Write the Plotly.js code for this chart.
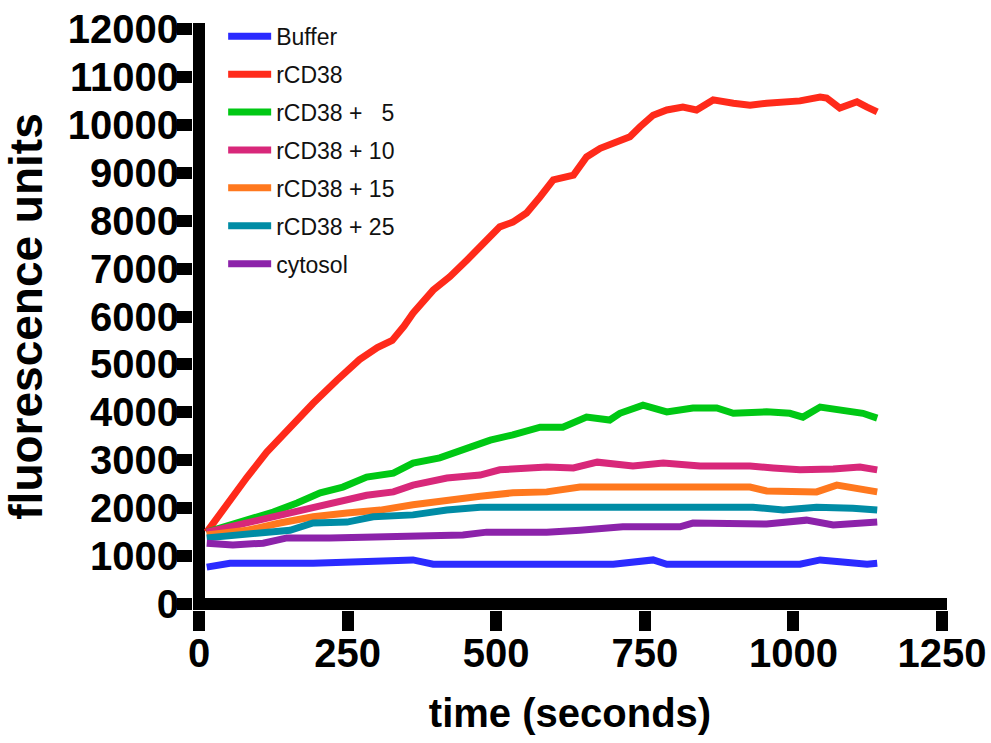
<!DOCTYPE html>
<html>
<head>
<meta charset="utf-8">
<script src="https://cdn.plot.ly/plotly-3.0.1.min.js"></script>
<style>html,body{margin:0;padding:0;background:#fff;}#chart{width:991px;height:743px;}</style>
</head>
<body>
<div id="chart"></div>
<script>
// Series names
const seriesNames = ["Buffer", "rCD38", "rCD38 +   5", "rCD38 + 10", "rCD38 + 15", "rCD38 + 25", "cytosol"];
const seriesColors = ["#2b2bff", "#ff2a1a", "#00c814", "#d8287a", "#ff781e", "#008ca5", "#8c23aa"];

// Buffer
const tBuffer = [13, 52, 192, 327, 360, 394, 528, 596, 697, 764, 787, 1011, 1045, 1078, 1124, 1141];
const vBuffer = [770, 850, 850, 880, 920, 830, 830, 850, 830, 920, 830, 830, 920, 880, 830, 850];

// rCD38
const tRcd38 = [13, 52, 81, 114, 153, 192, 232, 270, 300, 325, 345, 360, 394, 422, 451, 478, 506, 528, 551, 574, 596, 630, 652, 675, 703, 725, 742, 764, 787, 814, 837, 865, 899, 927, 955, 983, 1011, 1045, 1056, 1078, 1107, 1124, 1141];
const vRcd38 = [1500, 2170, 2650, 3170, 3690, 4190, 4670, 5100, 5350, 5500, 5800, 6070, 6550, 6830, 7180, 7530, 7870, 7970, 8160, 8500, 8850, 8950, 9330, 9510, 9640, 9750, 9960, 10200, 10310, 10370, 10310, 10520, 10450, 10410, 10450, 10460, 10500, 10580, 10560, 10350, 10480, 10370, 10270];

// rCD38 + 5
const tPlus5 = [13, 81, 125, 165, 204, 242, 282, 327, 360, 405, 444, 490, 528, 574, 612, 652, 691, 708, 747, 787, 831, 871, 899, 955, 994, 1016, 1045, 1078, 1117, 1141];
const vPlus5 = [1500, 1750, 1920, 2110, 2320, 2440, 2650, 2730, 2940, 3050, 3210, 3420, 3530, 3690, 3690, 3900, 3840, 3980, 4150, 4010, 4090, 4090, 3980, 4010, 3980, 3900, 4110, 4050, 3980, 3880];

// rCD38 + 10
const tPlus10 = [13, 81, 136, 182, 232, 282, 327, 360, 417, 473, 506, 585, 630, 670, 730, 781, 843, 927, 966, 1011, 1067, 1112, 1141];
const vPlus10 = [1500, 1690, 1860, 1960, 2130, 2270, 2340, 2480, 2630, 2690, 2800, 2860, 2840, 2960, 2880, 2940, 2880, 2880, 2840, 2800, 2820, 2860, 2800];

// rCD38 + 15
const tPlus15 = [13, 81, 136, 192, 249, 305, 360, 417, 473, 528, 585, 641, 670, 725, 787, 927, 955, 1039, 1073, 1112, 1141];
const vPlus15 = [1440, 1540, 1690, 1820, 1900, 1960, 2070, 2170, 2250, 2320, 2340, 2440, 2440, 2420, 2440, 2440, 2360, 2340, 2480, 2380, 2340];

// rCD38 + 25
const tPlus25 = [13, 81, 153, 192, 249, 293, 360, 417, 473, 528, 641, 809, 932, 983, 1039, 1100, 1124, 1141];
const vPlus25 = [1380, 1440, 1540, 1690, 1710, 1820, 1860, 1960, 2020, 2020, 2020, 2020, 2020, 1960, 2020, 2000, 1960, 1960];

// cytosol
const tCytosol = [13, 57, 108, 148, 220, 282, 360, 444, 484, 585, 641, 713, 809, 831, 955, 1022, 1067, 1124, 1141];
const vCytosol = [1270, 1230, 1270, 1380, 1380, 1400, 1440, 1440, 1500, 1500, 1540, 1610, 1610, 1690, 1670, 1750, 1650, 1710, 1710];

// Axis ticks
const xTicks = [0, 250, 500, 750, 1000, 1250];
const yTicks = [0, 1000, 2000, 3000, 4000, 5000, 6000, 7000, 8000, 9000, 10000, 11000, 12000];

const times = [tBuffer, tRcd38, tPlus5, tPlus10, tPlus15, tPlus25, tCytosol];
const values = [vBuffer, vRcd38, vPlus5, vPlus10, vPlus15, vPlus25, vCytosol];

const traces = seriesNames.map((name, i) => ({
  type: 'scatter',
  mode: 'lines',
  name: name,
  legendgroup: 'g' + i,
  x: times[i],
  y: values[i],
  line: {color: seriesColors[i], width: 7}
}));

const tickFont = {family: 'Liberation Sans, Arial, sans-serif', size: 40, color: '#000', weight: 'bold'};

const layout = {
  width: 991,
  height: 743,
  paper_bgcolor: '#fff',
  plot_bgcolor: '#fff',
  margin: {l: 193, r: 44, t: 23, b: 133},
  showlegend: true,
  legend: {
    x: 0.04, y: 1.014, xanchor: 'left', yanchor: 'top',
    font: {family: 'Liberation Sans, Arial, sans-serif', size: 23, color: '#111'},
    tracegroupgap: 5,
    itemwidth: 43,
    bgcolor: 'rgba(0,0,0,0)'
  },
  xaxis: {
    range: [-10.1, 1258.4],
    tickmode: 'array', tickvals: xTicks, ticktext: xTicks.map(String),
    ticks: 'outside', ticklen: 20, tickwidth: 12, tickcolor: '#000',
    ticklabeloverflow: 'allow',
    ticklabelstandoff: -12,
    showline: false, showgrid: false,
    zeroline: true, zerolinecolor: '#000', zerolinewidth: 12,
    tickfont: tickFont,
    title: {text: 'time (seconds)', font: {family: 'Liberation Sans, Arial, sans-serif', size: 40, color: '#000', weight: 'bold'}, standoff: 24},
    fixedrange: true
  },
  yaxis: {
    range: [-125, 12125],
    tickmode: 'array', tickvals: yTicks, ticktext: yTicks.map(String),
    ticks: 'outside', ticklen: 15, tickwidth: 12, tickcolor: '#000',
    ticklabeloverflow: 'allow',
    ticklabelstandoff: -10,
    showline: false, showgrid: false,
    zeroline: true, zerolinecolor: '#000', zerolinewidth: 12,
    tickfont: tickFont,
    title: {text: 'fluorescence units', font: {family: 'Liberation Sans, Arial, sans-serif', size: 46, color: '#000', weight: 'bold'}, standoff: 18},
    fixedrange: true
  }
};

Plotly.newPlot('chart', traces, layout, {displayModeBar: false, staticPlot: true});
</script>
</body>
</html>
